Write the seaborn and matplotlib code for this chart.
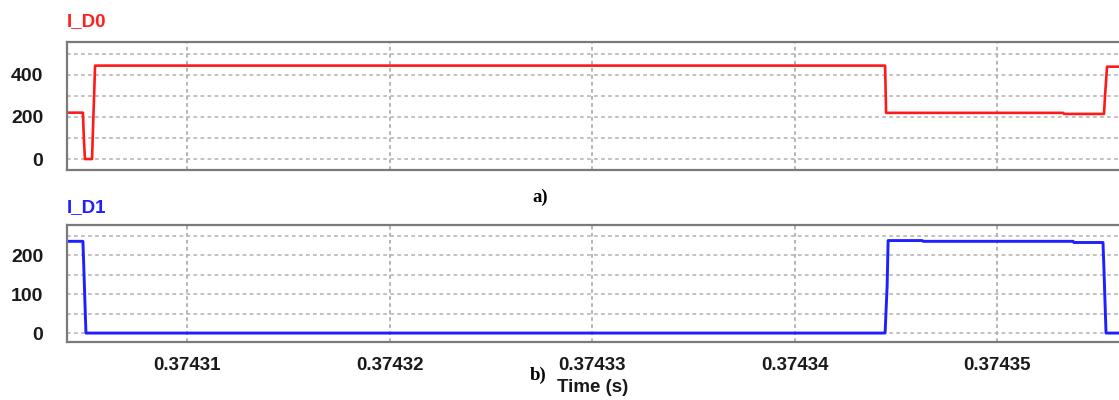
import numpy as np
import pandas as pd
import matplotlib
matplotlib.use("Agg")
import matplotlib.pyplot as plt
from matplotlib.ticker import FixedLocator, FixedFormatter, MultipleLocator
import seaborn as sns

# ---- data ----
t_d0 = [0.3743041, 0.37430486, 0.37430491, 0.37430496, 0.37430531, 0.37430536,
        0.37430546, 0.37434447, 0.37434452, 0.37435326, 0.37435331, 0.37435528,
        0.37435533, 0.37435543, 0.3743561]
i_d0 = [220, 220, 90, 0, 0, 150, 443, 443, 219, 219, 214, 214, 300, 438, 438]

t_d1 = [0.3743041, 0.37430486, 0.37430491, 0.37430496, 0.37430501, 0.37434447,
        0.37434457, 0.37434462, 0.37434630, 0.37434635, 0.37435375, 0.37435380,
        0.37435523, 0.37435528, 0.37435533, 0.37435538, 0.3743561]
i_d1 = [236, 236, 160, 78, 0, 0, 120, 238, 238, 236, 236, 233, 233, 160, 78, 0, 0]

x_ticks = [0.37431, 0.37432, 0.37433, 0.37434, 0.37435]
x_tick_labels = ["0.37431", "0.37432", "0.37433", "0.37434", "0.37435"]
y0_ticks = [0, 200, 400]
y1_ticks = [0, 100, 200]

XMIN, XMAX = 0.374304074, 0.37435602

sns.set_theme(style="white")
plt.rcParams['font.family'] = ['Liberation Sans', 'DejaVu Sans']

fig = plt.figure(figsize=(11.19, 4.0), dpi=100)
ax0 = fig.add_axes([67 / 1119, 1 - 170 / 400, 1 - 67 / 1119, 128 / 400])
ax1 = fig.add_axes([67 / 1119, 1 - 342 / 400, 1 - 67 / 1119, 117 / 400])

df0 = pd.DataFrame({"t": t_d0, "i": i_d0})
df1 = pd.DataFrame({"t": t_d1, "i": i_d1})
sns.lineplot(data=df0, x="t", y="i", ax=ax0, sort=False, estimator=None,
             color="#ff1a1a", linewidth=1.9)
sns.lineplot(data=df1, x="t", y="i", ax=ax1, sort=False, estimator=None,
             color="#1f1fff", linewidth=2.1)

spine_col = "#7a7a7a"
for ax, ylim, yt, minor in [(ax0, (-52, 555), y0_ticks, 100), (ax1, (-23, 278), y1_ticks, 50)]:
    ax.set_xlim(XMIN, XMAX)
    ax.set_ylim(*ylim)
    ax.yaxis.set_major_locator(FixedLocator(yt))
    ax.yaxis.set_minor_locator(MultipleLocator(minor))
    ax.xaxis.set_major_locator(FixedLocator(x_ticks))
    ax.set_xlabel("")
    ax.set_ylabel("")
    ax.grid(True, which="minor", axis="y", color="#b0b0b0", linestyle=(0, (2.4, 2.2)), linewidth=1.1)
    ax.grid(True, which="major", axis="y", color="#b0b0b0", linestyle=(0, (2.4, 2.2)), linewidth=1.1)
    ax.grid(True, which="major", axis="x", color="#a0a0a0", linestyle=(0, (2.4, 2.2)), linewidth=1.1)
    ax.set_axisbelow(True)
    for s in ["left", "top", "bottom"]:
        ax.spines[s].set_color(spine_col)
        ax.spines[s].set_linewidth(1.6)
    ax.spines["right"].set_visible(False)
    ax.tick_params(axis="both", which="both", length=0)
    ax.tick_params(axis="y", pad=17, labelsize=14)
    for lab in ax.get_yticklabels():
        lab.set_fontweight("bold")
        lab.set_color("#1a1a1a")

ax0.set_xticklabels([])
ax1.xaxis.set_major_formatter(FixedFormatter(x_tick_labels))
ax1.tick_params(axis="x", pad=11, labelsize=13.5)
for lab in ax1.get_xticklabels():
    lab.set_fontweight("bold")
    lab.set_color("#1a1a1a")

# titles
fig.text(67 / 1119, 1 - 26 / 400, "I_D0", color="#ff2020", fontsize=13.5,
         fontweight="bold", ha="left", va="baseline")
fig.text(67 / 1119, 1 - 212 / 400, "I_D1", color="#2020ff", fontsize=13.5,
         fontweight="bold", ha="left", va="baseline")

# captions
fig.text(540 / 1119, 1 - 197 / 400, "a)", fontsize=13.5, fontweight="bold",
         family=["Liberation Serif", "DejaVu Serif"], ha="center", va="center", color="black")
fig.text(538 / 1119, 1 - 375 / 400, "b)", fontsize=13.5, fontweight="bold",
         family=["Liberation Serif", "DejaVu Serif"], ha="center", va="center", color="black")
fig.text(593 / 1119, 1 - 388 / 400, "Time (s)", fontsize=13.5, fontweight="bold",
         ha="center", va="center", color="#1a1a1a")

fig.savefig("out.png", dpi=100, facecolor="white")
